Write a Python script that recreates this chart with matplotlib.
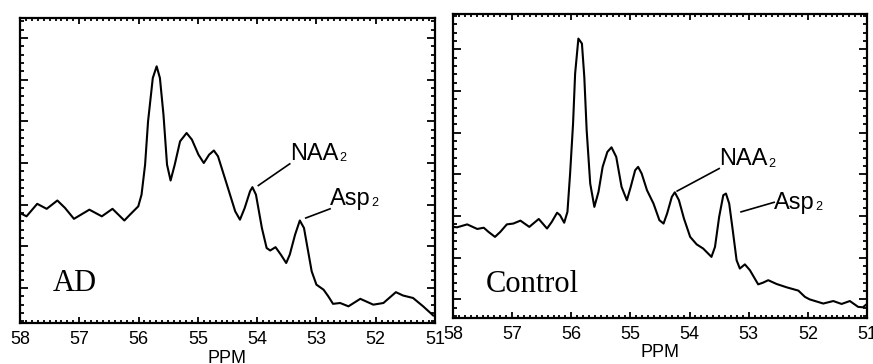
import matplotlib
matplotlib.use("Agg")
import matplotlib.pyplot as plt
from matplotlib.ticker import MultipleLocator

plt.rcParams["font.family"] = ["Liberation Sans", "DejaVu Sans"]

# spectra (ppm, arbitrary intensity in major-tick units)
ad_ppm = [58.00, 57.89, 57.71, 57.55, 57.37, 57.24, 57.09, 56.83, 56.62, 56.44,
          56.24, 56.145, 56.005, 55.95, 55.89, 55.84, 55.76, 55.695, 55.64, 55.58,
          55.52, 55.46, 55.39, 55.30, 55.19, 55.10, 54.99, 54.90, 54.81, 54.73,
          54.66, 54.51, 54.37, 54.29, 54.21, 54.12, 54.08, 54.02, 53.92, 53.84,
          53.78, 53.69, 53.60, 53.51, 53.45, 53.36, 53.28, 53.21, 53.14, 53.08,
          53.00, 52.88, 52.80, 52.72, 52.60, 52.46, 52.26, 52.04, 51.87, 51.66,
          51.54, 51.37, 51.20, 51.03]
ad_int = [1.80, 1.72, 2.02, 1.90, 2.10, 1.92, 1.66, 1.88, 1.72, 1.90,
          1.62, 1.76, 1.96, 2.24, 2.96, 4.00, 5.04, 5.32, 5.04, 4.16,
          2.96, 2.58, 2.96, 3.52, 3.72, 3.56, 3.20, 3.00, 3.20, 3.30,
          3.16, 2.48, 1.84, 1.64, 1.92, 2.32, 2.42, 2.24, 1.44, 0.96,
          0.90, 0.98, 0.80, 0.60, 0.80, 1.28, 1.62, 1.44, 0.88, 0.40,
          0.08, -0.04, -0.20, -0.38, -0.36, -0.44, -0.26, -0.40, -0.36, -0.10,
          -0.18, -0.24, -0.44, -0.66]

ctl_ppm = [58.00, 57.93, 57.76, 57.59, 57.48, 57.40, 57.29, 57.20, 57.09, 56.98,
           56.86, 56.71, 56.55, 56.41, 56.33, 56.24, 56.19, 56.12, 56.065, 56.02,
           55.97, 55.935, 55.88, 55.82, 55.78, 55.74, 55.68, 55.61, 55.54, 55.47,
           55.39, 55.32, 55.24, 55.15, 55.06, 54.995, 54.92, 54.87, 54.81, 54.72,
           54.61, 54.51, 54.44, 54.38, 54.30, 54.25, 54.18, 54.095, 53.99, 53.88,
           53.77, 53.70, 53.63, 53.57, 53.50, 53.43, 53.385, 53.33, 53.27, 53.205,
           53.15, 53.065, 52.98, 52.84, 52.76, 52.67, 52.53, 52.36, 52.16, 52.05,
           51.97, 51.74, 51.57, 51.43, 51.29, 51.15, 51.07, 51.00]
ctl_int = [1.74, 1.73, 1.80, 1.69, 1.72, 1.62, 1.50, 1.62, 1.80, 1.82,
           1.89, 1.74, 1.93, 1.70, 1.86, 2.08, 2.02, 1.84, 2.10, 3.02,
           4.22, 5.42, 6.26, 6.14, 5.34, 4.06, 2.78, 2.22, 2.58, 3.18,
           3.54, 3.65, 3.42, 2.70, 2.38, 2.70, 3.10, 3.18, 3.02, 2.62,
           2.30, 1.90, 1.82, 2.06, 2.46, 2.57, 2.38, 1.94, 1.50, 1.32,
           1.22, 1.12, 1.02, 1.26, 1.98, 2.50, 2.54, 2.30, 1.66, 0.94,
           0.74, 0.84, 0.70, 0.36, 0.40, 0.46, 0.37, 0.29, 0.21, 0.06,
           0.00, -0.10, -0.04, -0.11, -0.04, -0.18, -0.19, -0.11]

x_ticks = [58, 57, 56, 55, 54, 53, 52, 51]

# peak labels: (name, text x, text y, leader line start, leader line end)
ad_labels = [("NAA", 53.45, 3.22, (53.98, 2.46), (53.45, 2.98)),
             ("Asp", 52.77, 2.14, (53.18, 1.68), (52.77, 1.90))]
ctl_labels = [("NAA", 53.50, 3.36, (54.21, 2.60), (53.50, 3.14)),
              ("Asp", 52.58, 2.32, (53.13, 2.10), (52.57, 2.33))]


def style_axes(ax, ylim):
    ax.set_xlim(58, 51)
    ax.set_ylim(*ylim)
    ax.set_xticks(x_ticks)
    ax.set_xticklabels([str(t) for t in x_ticks])
    ax.xaxis.set_minor_locator(MultipleLocator(0.1))
    ax.yaxis.set_major_locator(MultipleLocator(1))
    ax.yaxis.set_minor_locator(MultipleLocator(0.2))
    ax.set_yticklabels([])
    ax.tick_params(axis="both", which="both", direction="in",
                   top=True, right=True, width=1.3, colors="black")
    ax.tick_params(axis="x", which="major", length=4, pad=6, labelsize=13)
    ax.tick_params(axis="x", which="minor", length=2)
    ax.tick_params(axis="y", which="major", length=6)
    ax.tick_params(axis="y", which="minor", length=3)
    for sp in ax.spines.values():
        sp.set_linewidth(1.6)
    ax.set_xlabel("PPM", fontsize=13, labelpad=1)


def draw_panel(ax, ppm, inten, labels, name, name_pos, ylim):
    ax.plot(ppm, inten, color="black", linewidth=1.5)
    for txt, tx, ty, p0, p1 in labels:
        ax.plot([p0[0], p1[0]], [p0[1], p1[1]], color="black", linewidth=1.2)
        t = ax.text(tx, ty, txt, fontsize=17, ha="left", va="center")
        # small subscript 2 right after the label
        ax.annotate("2", xy=(1, 0), xycoords=t, xytext=(0.5, 0.5),
                    textcoords="offset points", fontsize=9,
                    ha="left", va="bottom")
    ax.text(name_pos[0], name_pos[1], name, fontsize=22, ha="left",
            va="baseline", family=["Liberation Serif", "DejaVu Serif"])
    style_axes(ax, ylim)


fig = plt.figure(figsize=(8.73, 3.64), dpi=100)
ax1 = fig.add_axes([20 / 873, 41 / 364, 415 / 873, 305 / 364])
ax2 = fig.add_axes([453 / 873, 46.3 / 364, 414 / 873, 303.7 / 364])

draw_panel(ax1, ad_ppm, ad_int, ad_labels, "AD", (57.44, -0.08), (-0.84, 6.48))
draw_panel(ax2, ctl_ppm, ctl_int, ctl_labels, "Control", (57.45, 0.18), (-0.44, 6.85))

fig.savefig("out.png", dpi=100)
